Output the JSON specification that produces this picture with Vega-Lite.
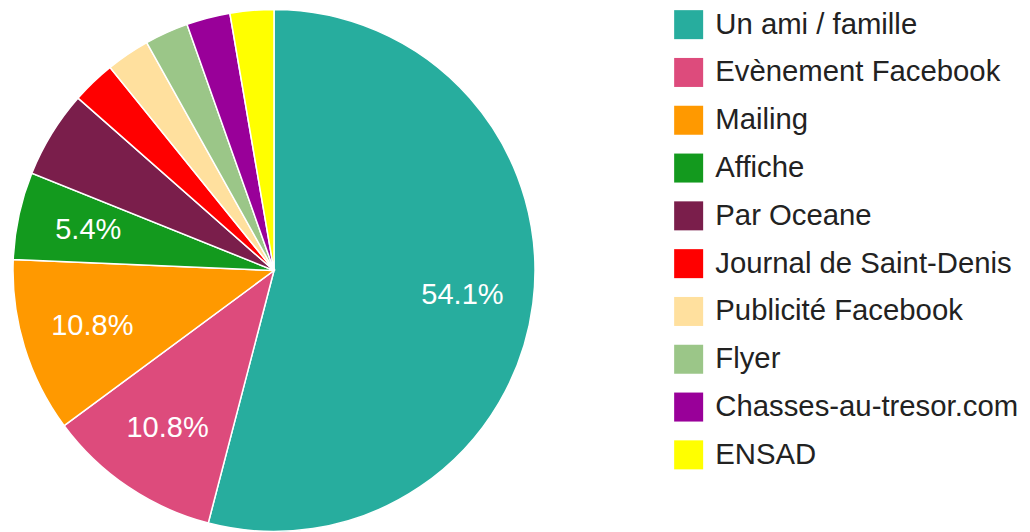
{
  "$schema": "https://vega.github.io/schema/vega-lite/v6.json",
  "width": 548,
  "height": 541,
  "padding": 0,
  "autosize": {"type": "pad"},
  "background": "white",
  "view": {"stroke": null},
  "config": {"font": "Liberation Sans"},
  "data": {
    "values": [
      {"source": "Un ami / famille", "count": 20, "label": "54.1%", "idx": 1},
      {"source": "Evènement Facebook", "count": 4, "label": "10.8%", "idx": 2},
      {"source": "Mailing", "count": 4, "label": "10.8%", "idx": 3},
      {"source": "Affiche", "count": 2, "label": "5.4%", "idx": 4},
      {"source": "Par Oceane", "count": 2, "label": "", "idx": 5},
      {"source": "Journal de Saint-Denis", "count": 1, "label": "", "idx": 6},
      {"source": "Publicité Facebook", "count": 1, "label": "", "idx": 7},
      {"source": "Flyer", "count": 1, "label": "", "idx": 8},
      {"source": "Chasses-au-tresor.com", "count": 1, "label": "", "idx": 9},
      {"source": "ENSAD", "count": 1, "label": "", "idx": 10}
    ]
  },
  "encoding": {
    "theta": {"field": "count", "type": "quantitative", "stack": true},
    "order": {"field": "idx", "type": "quantitative"}
  },
  "layer": [
    {
      "mark": {"type": "arc", "radius": 261, "stroke": "white", "strokeWidth": 1.5},
      "encoding": {
        "color": {
          "field": "source",
          "type": "nominal",
          "scale": {
            "domain": ["Un ami / famille", "Evènement Facebook", "Mailing", "Affiche", "Par Oceane", "Journal de Saint-Denis", "Publicité Facebook", "Flyer", "Chasses-au-tresor.com", "ENSAD"],
            "range": ["#27ad9e", "#dd4b7c", "#ff9900", "#139a1e", "#7a1e4b", "#ff0000", "#ffe09e", "#9bc688", "#990099", "#ffff00"]
          },
          "legend": {
            "title": null,
            "orient": "none",
            "legendX": 674,
            "legendY": 10,
            "symbolType": "square",
            "symbolSize": 841,
            "symbolStrokeWidth": 0,
            "symbolOpacity": 1,
            "labelFontSize": 29.3,
            "labelFont": "Liberation Sans",
            "labelColor": "#222222",
            "labelOffset": 12,
            "labelLimit": 400,
            "rowPadding": 17.8
          }
        }
      }
    },
    {
      "mark": {"type": "text", "radius": 190, "fontSize": 29, "font": "Liberation Sans", "fill": "white"},
      "encoding": {"text": {"field": "label", "type": "nominal"}}
    }
  ]
}
